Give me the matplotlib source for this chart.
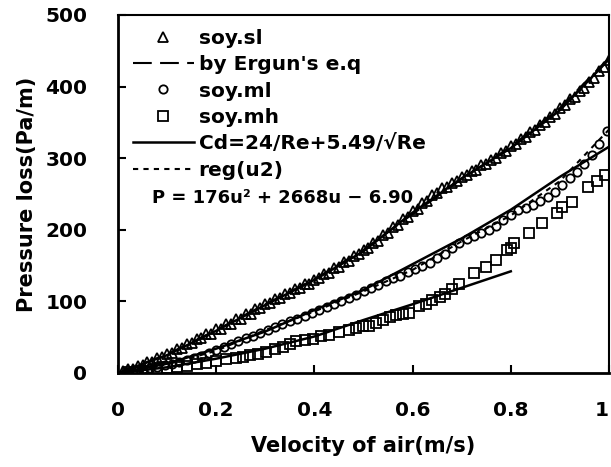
import matplotlib
matplotlib.use('Agg')
import matplotlib.pyplot as plt
from matplotlib.lines import Line2D

plt.rcParams['font.family'] = 'DejaVu Sans'
plt.rcParams['font.weight'] = 'bold'

# soy.sl (triangles)
sl_u = [0.01, 0.02, 0.03, 0.04, 0.05, 0.06, 0.07, 0.08, 0.09, 0.10,
        0.11, 0.12, 0.13, 0.14, 0.15, 0.16, 0.17, 0.18, 0.19, 0.20,
        0.21, 0.22, 0.23, 0.24, 0.25, 0.26, 0.27, 0.28, 0.29, 0.30,
        0.31, 0.32, 0.33, 0.34, 0.35, 0.36, 0.37, 0.38, 0.39, 0.40,
        0.41, 0.42, 0.43, 0.44, 0.45, 0.46, 0.47, 0.48, 0.49, 0.50,
        0.51, 0.52, 0.53, 0.54, 0.55, 0.56, 0.57, 0.58, 0.59, 0.60,
        0.61, 0.62, 0.63, 0.64, 0.65, 0.66, 0.67, 0.68, 0.69, 0.70,
        0.71, 0.72, 0.73, 0.74, 0.75, 0.76, 0.77, 0.78, 0.79, 0.80,
        0.81, 0.82, 0.83, 0.84, 0.85, 0.86, 0.87, 0.88, 0.89, 0.90,
        0.91, 0.92, 0.93, 0.94, 0.95, 0.96, 0.97, 0.98, 0.99, 1.00]
sl_p = [3, 5, 5, 10, 11, 15, 16, 21, 22, 27,
        28, 33, 35, 40, 42, 47, 49, 54, 55, 61,
        62, 68, 69, 75, 76, 82, 83, 89, 91, 96,
        98, 103, 105, 110, 112, 117, 119, 124, 125, 130,
        132, 138, 140, 146, 148, 155, 157, 163, 166, 172,
        174, 181, 185, 193, 196, 204, 207, 215, 218, 226,
        229, 237, 240, 248, 251, 258, 260, 266, 268, 274,
        276, 282, 284, 290, 292, 298, 300, 307, 310, 317,
        320, 327, 330, 337, 340, 347, 350, 358, 362, 370,
        374, 382, 386, 394, 398, 406, 412, 422, 428, 437]

# soy.ml (circles)
ml_u = [0.020, 0.035, 0.050, 0.065, 0.080, 0.095, 0.110, 0.125, 0.140, 0.155,
        0.170, 0.185, 0.200, 0.215, 0.230, 0.245, 0.260, 0.275, 0.290, 0.305,
        0.320, 0.335, 0.350, 0.365, 0.380, 0.395, 0.410, 0.425, 0.440, 0.455,
        0.470, 0.485, 0.500, 0.515, 0.530, 0.545, 0.560, 0.575, 0.590, 0.605,
        0.620, 0.635, 0.650, 0.665, 0.680, 0.695, 0.710, 0.725, 0.740, 0.755,
        0.770, 0.785, 0.800, 0.815, 0.830, 0.845, 0.860, 0.875, 0.890, 0.905,
        0.920, 0.935, 0.950, 0.965, 0.980, 0.995]
ml_p = [2, 3, 5, 7, 9, 11, 13, 16, 18, 21,
        24, 28, 32, 36, 40, 45, 49, 52, 56, 60,
        64, 68, 72, 76, 80, 84, 88, 92, 97, 101,
        105, 109, 114, 119, 123, 128, 132, 136, 141, 145,
        149, 154, 160, 166, 174, 182, 187, 191, 195, 200,
        206, 213, 220, 227, 231, 235, 240, 246, 253, 262,
        272, 281, 292, 305, 320, 338]

# soy.mh (squares)
mh_u = [0.02, 0.04, 0.06, 0.08, 0.10, 0.12, 0.14, 0.16, 0.18, 0.20,
        0.22, 0.24, 0.255, 0.268, 0.285, 0.302, 0.320, 0.336, 0.350, 0.363,
        0.380, 0.397, 0.413, 0.430, 0.450, 0.471, 0.485, 0.498, 0.512, 0.525,
        0.539, 0.553, 0.566, 0.580, 0.593, 0.613, 0.627, 0.640, 0.655, 0.667,
        0.680, 0.694, 0.725, 0.749, 0.769, 0.792, 0.800, 0.806, 0.837, 0.864,
        0.894, 0.904, 0.925, 0.958, 0.975, 0.992]
mh_p = [1, 2, 3, 5, 7, 8, 10, 12, 14, 17,
        19, 21, 23, 25, 27, 30, 34, 37, 41, 44,
        46, 48, 51, 53, 57, 60, 63, 65, 66, 70,
        74, 78, 81, 82, 84, 93, 97, 102, 106, 111,
        118, 125, 139, 148, 158, 172, 175, 181, 195, 209,
        223, 232, 239, 260, 268, 277]

# model curves
line_u = [0, 0.1, 0.2, 0.3, 0.4, 0.5, 0.6, 0.7, 0.8, 0.9, 1.0]
sl_cd = [0, 25, 59, 95, 130, 170, 224, 272, 314, 367, 438]
sl_ergun = [0, 26, 60, 96, 131, 172, 222, 271, 316, 370, 440]
ml_cd = [0, 13, 34, 58, 88, 116, 152, 188, 228, 274, 316]
ml_reg = [0, 12, 31, 60, 86, 114, 144, 184, 220, 268, 340]
mh_line_u = [0, 0.1, 0.2, 0.3, 0.4, 0.5, 0.6, 0.7, 0.8]
mh_cd = [0, 8, 20, 34, 51, 74, 96, 119, 142]

xticks = [0, 0.2, 0.4, 0.6, 0.8, 1.0]
xlabels = ['0', '0.2', '0.4', '0.6', '0.8', '1']
yticks = [0, 100, 200, 300, 400, 500]

fig = plt.figure(figsize=(6.11, 4.67), dpi=100)
ax = fig.add_axes([118 / 611, 1 - 373 / 467, 491 / 611, 358 / 467])

mk = dict(fillstyle='none', color='black', linestyle='none', markeredgewidth=1.3)
ax.plot(sl_u, sl_p, marker='^', markersize=7, **mk)
ax.plot(ml_u, ml_p, marker='o', markersize=6, **mk)
ax.plot(mh_u, mh_p, marker='s', markersize=6.5, **mk)

ax.plot(line_u, sl_cd, 'k-', linewidth=1.8)
ax.plot(line_u, sl_ergun, 'k-', linewidth=1.5, dashes=(9, 4))
ax.plot(line_u, ml_cd, 'k-', linewidth=1.8)
ax.plot(line_u, ml_reg, 'k-', linewidth=1.5, dashes=(2.5, 2.5))
ax.plot(mh_line_u, mh_cd, 'k-', linewidth=1.8)

ax.set_xlim(0, 1)
ax.set_ylim(0, 500)
ax.set_xticks(xticks)
ax.set_xticklabels(xlabels)
ax.get_xticklabels()[-1].set_horizontalalignment('right')
ax.set_yticks(yticks)
ax.tick_params(direction='in', length=6, width=1.5, labelsize=14.5)
ax.tick_params(axis='x', pad=20)
ax.tick_params(axis='y', pad=22)
for s in ['left', 'bottom']:
    ax.spines[s].set_linewidth(2)
for s in ['top', 'right']:
    ax.spines[s].set_linewidth(1.5)

ax.set_xlabel('Velocity of air(m/s)', fontsize=15, fontweight='bold', labelpad=12)
ax.set_ylabel('Pressure loss(Pa/m)', fontsize=15, fontweight='bold', labelpad=6)

handles = [
    Line2D([], [], marker='^', markersize=7, **mk),
    Line2D([], [], color='black', linewidth=1.5, dashes=(9, 4)),
    Line2D([], [], marker='o', markersize=6, **mk),
    Line2D([], [], marker='s', markersize=6.5, **mk),
    Line2D([], [], color='black', linewidth=1.8),
    Line2D([], [], color='black', linewidth=1.5, dashes=(2.5, 2.5)),
]
labels = ['soy.sl', "by Ergun's e.q", 'soy.ml', 'soy.mh',
          'Cd=24/Re+5.49/√Re', 'reg(u2)']
ax.legend(handles, labels, loc='upper left', bbox_to_anchor=(0.031, 0.962),
          frameon=False, borderpad=0, borderaxespad=0, handlelength=3.0,
          handletextpad=0.25, labelspacing=0.37, numpoints=1,
          prop={'size': 14.5, 'weight': 'bold'})
ax.text(0.069, 0.489, 'P = 176u² + 2668u − 6.90', transform=ax.transAxes,
        fontsize=13, fontweight='bold', va='center', ha='left')

fig.savefig('out.png', dpi=100)
